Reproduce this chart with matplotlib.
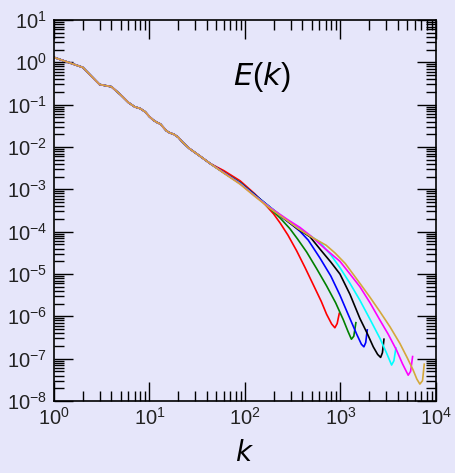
import numpy as np
import matplotlib
matplotlib.use("Agg")
import matplotlib.pyplot as plt
from matplotlib.ticker import LogLocator, FuncFormatter, NullFormatter

plt.rcParams['mathtext.fontset'] = 'custom'
plt.rcParams['mathtext.rm'] = 'Liberation Sans'
plt.rcParams['mathtext.it'] = 'DejaVu Sans:italic'
plt.rcParams['font.family'] = ['Liberation Sans', 'DejaVu Sans']

# shared low-k part of the spectra (all runs overlap)
k_low = [1, 2, 3, 4, 5, 6, 7, 8, 9, 10, 11, 12, 13, 14, 15, 16, 17, 18, 20, 22, 26, 30, 36, 43]
E_low = [1.31, 0.76, 0.30, 0.265, 0.17, 0.113, 0.089, 0.081, 0.068, 0.052, 0.043, 0.038,
         0.035, 0.029, 0.0243, 0.0221, 0.0209, 0.020, 0.017, 0.0133, 0.0093, 0.0074, 0.0055, 0.0041]

# high-k tails, log10(k) and log10(E)
red_lk = [1.78, 1.95, 2.10, 2.22, 2.30, 2.37, 2.45, 2.541, 2.63, 2.715, 2.80, 2.855, 2.908, 2.942, 2.966, 2.988]
red_lE = [-2.56, -2.80, -3.10, -3.38, -3.58, -3.80, -4.08, -4.45, -4.85, -5.25, -5.65, -5.95, -6.18, -6.27, -6.17, -5.93]

green_lk = [1.78, 1.95, 2.10, 2.262, 2.37, 2.471, 2.55, 2.646, 2.75, 2.855, 2.95, 3.03, 3.08, 3.115, 3.14, 3.162]
green_lE = [-2.60, -2.84, -3.12, -3.45, -3.68, -3.93, -4.17, -4.48, -4.87, -5.28, -5.68, -6.08, -6.36, -6.54, -6.47, -6.15]

blue_lk = [1.78, 1.95, 2.10, 2.262, 2.40, 2.50, 2.576, 2.663, 2.785, 2.90, 2.995, 3.08, 3.17, 3.22, 3.246, 3.265, 3.281]
blue_lE = [-2.61, -2.85, -3.12, -3.42, -3.68, -3.85, -3.99, -4.20, -4.62, -5.05, -5.50, -5.95, -6.42, -6.66, -6.72, -6.62, -6.32]

black_lk = [1.78, 1.95, 2.10, 2.262, 2.40, 2.55, 2.681, 2.80, 2.90, 2.995, 3.10, 3.204, 3.28, 3.344, 3.39, 3.421, 3.44, 3.456]
black_lE = [-2.61, -2.86, -3.13, -3.42, -3.67, -3.93, -4.12, -4.45, -4.72, -5.00, -5.48, -6.05, -6.40, -6.72, -6.90, -6.97, -6.86, -6.54]

cyan_lk = [1.78, 1.95, 2.10, 2.262, 2.45, 2.60, 2.785, 2.90, 2.995, 3.10, 3.204, 3.31, 3.414, 3.48, 3.536, 3.56, 3.581]
cyan_lE = [-2.61, -2.86, -3.14, -3.42, -3.74, -3.97, -4.25, -4.55, -4.85, -5.22, -5.62, -6.07, -6.52, -6.85, -7.15, -7.05, -6.75]

magenta_lk = [1.78, 1.95, 2.10, 2.262, 2.45, 2.576, 2.70, 2.838, 2.995, 3.10, 3.204, 3.31, 3.414, 3.50, 3.588, 3.65, 3.71, 3.735, 3.756]
magenta_lE = [-2.61, -2.87, -3.15, -3.43, -3.72, -3.90, -4.12, -4.40, -4.70, -5.00, -5.30, -5.68, -6.09, -6.42, -6.80, -7.12, -7.39, -7.30, -6.95]

gold_lk = [1.78, 1.95, 2.10, 2.262, 2.45, 2.558, 2.70, 2.85, 2.942, 3.05, 3.204, 3.31, 3.414, 3.52, 3.623, 3.70, 3.762, 3.80, 3.832, 3.86, 3.878]
gold_lE = [-2.62, -2.88, -3.16, -3.45, -3.75, -3.93, -4.13, -4.32, -4.50, -4.75, -5.22, -5.55, -5.89, -6.25, -6.64, -6.98, -7.27, -7.48, -7.60, -7.52, -7.13]

colors = ['#ff0000', '#008000', '#0000ff', '#000000', '#00ffff', '#ff00ff', '#d4a83a']
tails = [(red_lk, red_lE), (green_lk, green_lE), (blue_lk, blue_lE), (black_lk, black_lE),
         (cyan_lk, cyan_lE), (magenta_lk, magenta_lE), (gold_lk, gold_lE)]

bg = '#e6e6fa'
fig = plt.figure(figsize=(4.55, 4.73), dpi=100, facecolor=bg)
ax = fig.add_axes([0.1187, 0.1522, 0.8393, 0.8055], facecolor=bg)

for c, (lk, lE) in zip(colors, tails):
    k = np.concatenate([np.array(k_low, float), np.power(10.0, lk)])
    E = np.concatenate([np.array(E_low, float), np.power(10.0, lE)])
    ax.plot(k, E, color=c, lw=1.2)

ax.set_xscale('log')
ax.set_yscale('log')
ax.set_xlim(1, 1e4)
ax.set_ylim(1e-8, 1e1)

ax.xaxis.set_major_locator(LogLocator(base=10, numticks=20))
ax.yaxis.set_major_locator(LogLocator(base=10, numticks=20))
ax.xaxis.set_minor_locator(LogLocator(base=10, subs=np.arange(2, 10), numticks=20))
ax.yaxis.set_minor_locator(LogLocator(base=10, subs=np.arange(2, 10), numticks=20))
fmt = FuncFormatter(lambda v, p: r'$\mathregular{10^{%d}}$' % int(round(np.log10(v))))
ax.xaxis.set_major_formatter(fmt)
ax.yaxis.set_major_formatter(fmt)
ax.xaxis.set_minor_formatter(NullFormatter())
ax.yaxis.set_minor_formatter(NullFormatter())

ax.tick_params(which='both', direction='in', top=True, right=True, colors='black', labelsize=14.5)
ax.tick_params(which='major', length=13.5, width=1.0)
ax.tick_params(which='minor', length=7, width=1.0)
ax.tick_params(axis='x', which='major', pad=4)
ax.tick_params(axis='y', which='major', pad=5)
for lab in ax.get_xticklabels() + ax.get_yticklabels():
    lab.set_color('#222222')
for s in ax.spines.values():
    s.set_linewidth(1.2)
    s.set_color('black')

ax.set_xlabel(r'$k$', fontsize=20, labelpad=9)
ax.text(0.545, 0.850, r'$E(k)$', transform=ax.transAxes, fontsize=22, ha='center', va='center')

fig.savefig('out.png', dpi=100, facecolor=bg)
